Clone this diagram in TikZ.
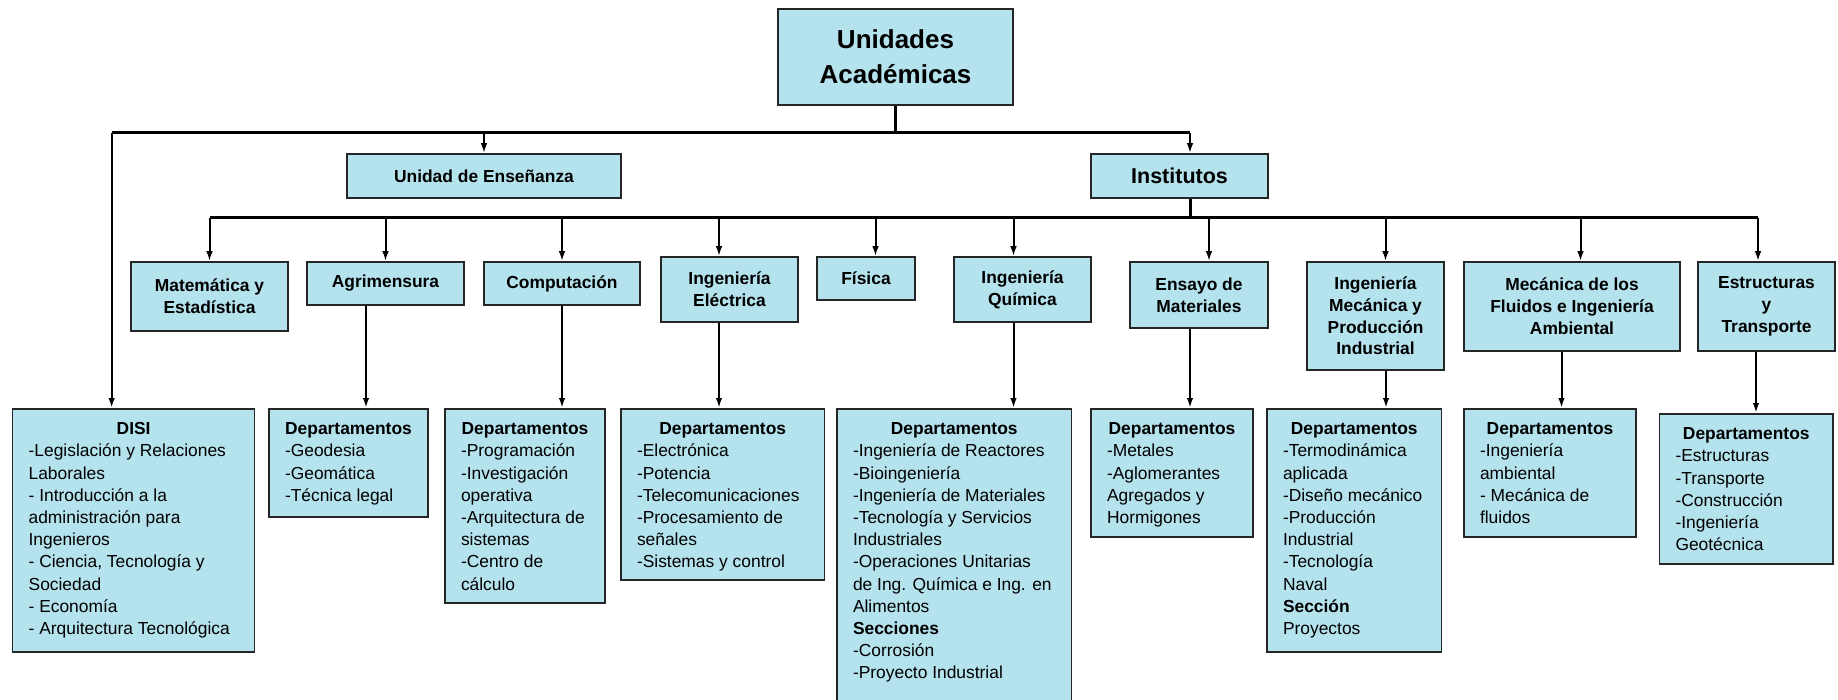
\documentclass[tikz,border=0pt]{standalone}
\usepackage{fontspec}
\setmainfont{Liberation Sans}
\usetikzlibrary{arrows.meta}
\definecolor{celeste}{RGB}{180,226,237}
\newcommand{\deps}[3]{\begin{tabular}[t]{@{}l@{}}\makebox[#1][c]{\bfseries #2}\\#3\end{tabular}}
\tikzset{
	caja/.style={draw=black!85, line width=1.5pt, fill=celeste, inner sep=0pt, align=center, font=\fontsize{17.4}{21.8}\selectfont\bfseries},
	depto/.style={draw=black!85, line width=1.5pt, fill=celeste, inner sep=0pt, anchor=north, text height=26pt, font=\fontsize{17.4}{22.2}\selectfont},
	bus/.style={line width=3pt},
	flecha/.style={line width=2pt, -{Latex[length=10pt,width=6.5pt]}}
}

\begin{document}
\begin{tikzpicture}[x=1pt,y=-1pt]
			%%%%% START %%%%%
			\useasboundingbox (0,0) rectangle (1838,700);
			
			\node[caja, minimum width=235, minimum height=96, font=\fontsize{26}{35}\selectfont\bfseries] (ua) at (895.5,57) {Unidades\\Académicas};
			
			\node[caja, minimum width=274, minimum height=44] (ue) at (484,176) {Unidad de Enseñanza};
			\node[caja, minimum width=177, minimum height=44, font=\fontsize{21.5}{26}\selectfont\bfseries] (inst) at (1179.5,176) {Institutos};
			
			\node[caja, minimum width=157, minimum height=69] (mat) at (209.5,296.5) {Matemática y\\Estadística};
			\node[caja, minimum width=157, minimum height=43] (agr) at (385.5,283.5) {Agrimensura};
			\node[caja, minimum width=156, minimum height=43] (comp) at (562,283.5) {Computación};
			\node[caja, minimum width=137, minimum height=65] (ie) at (729.5,289.5) {Ingeniería\\Eléctrica};
			\node[caja, minimum width=98, minimum height=43] (fis) at (866,278.5) {Física};
			\node[caja, minimum width=137, minimum height=65] (iq) at (1022.5,289.5) {Ingeniería\\Química};
			\node[caja, minimum width=138, minimum height=66] (ens) at (1199,295) {Ensayo de\\Materiales};
			\node[caja, minimum width=137, minimum height=108] (imec) at (1375.5,316) {Ingeniería\\Mecánica y\\Producción\\Industrial};
			\node[caja, minimum width=216, minimum height=89] (mfl) at (1572,306.5) {Mecánica de los\\Fluidos e Ingeniería\\Ambiental};
			\node[caja, minimum width=137, minimum height=89] (est) at (1766.5,306.5) {Estructuras\\y\\Transporte};
			
			\node[depto, minimum width=242, text depth=217] (disi) at (133.65,408) {\deps{210pt}{DISI}{-Legislación y Relaciones\\Laborales\\- Introducción a la\\administración para\\Ingenieros\\- Ciencia, Tecnología y\\Sociedad\\- Economía\\- Arquitectura Tecnológica}};
			\node[depto, minimum width=159, text depth=82] (agrd) at (348.5,408) {\deps{127pt}{Departamentos}{-Geodesia\\-Geomática\\-Técnica legal}};
			\node[depto, minimum width=160, text depth=168] (compd) at (525,408) {\deps{128pt}{Departamentos}{-Programación\\-Investigación\\operativa\\-Arquitectura de\\sistemas\\-Centro de\\cálculo}};
			\node[depto, minimum width=203.5, text depth=145] (ied) at (722.75,408) {\deps{171.5pt}{Departamentos}{-Electrónica\\-Potencia\\-Telecomunicaciones\\-Procesamiento de\\señales\\-Sistemas y control}};
			\node[depto, minimum width=234.5, text depth=269] (iqd) at (954.25,408) {\deps{202.5pt}{Departamentos}{-Ingeniería de Reactores\\-Bioingeniería\\-Ingeniería de Materiales\\-Tecnología y Servicios\\Industriales\\-Operaciones Unitarias\\de Ing. Química e Ing. en\\Alimentos\\\textbf{Secciones}\\-Corrosión\\-Proyecto Industrial}};
			\node[depto, minimum width=162, text depth=102] (ensd) at (1172,408) {\deps{130pt}{Departamentos}{-Metales\\-Aglomerantes\\Agregados y\\Hormigones}};
			\node[depto, minimum width=174.5, text depth=217] (imecd) at (1354.25,408) {\deps{142.5pt}{Departamentos}{-Termodinámica\\aplicada\\-Diseño mecánico\\-Producción\\Industrial\\-Tecnología\\Naval\\\textbf{Sección}\\Proyectos}};
			\node[depto, minimum width=172, text depth=102] (mfld) at (1550,408) {\deps{140pt}{Departamentos}{-Ingeniería\\ambiental\\- Mecánica de\\fluidos}};
			\node[depto, minimum width=173.5, text depth=124] (estd) at (1746.25,413) {\deps{141.5pt}{Departamentos}{-Estructuras\\-Transporte\\-Construcción\\-Ingeniería\\Geotécnica}};
			
			% barras
			\coordinate (bus1) at (895.5,133);
			\coordinate (bus2) at (1190,218);
			\draw[bus] (ua.south) -- (bus1);
			\draw[bus] ([xshift=-22pt]disi.north |- bus1) -- ([xshift=10.5pt]inst.north |- bus1);
			\draw[flecha] ([xshift=-22pt]disi.north |- bus1) -- ([xshift=-22pt]disi.north);
			\draw[flecha] (ue.north |- bus1) -- (ue.north);
			\draw[flecha] ([xshift=10.5pt]inst.north |- bus1) -- ([xshift=10.5pt]inst.north);
			
			\draw[bus] ([xshift=10.5pt]inst.south) -- (bus2);
			\draw[bus] (mat.north |- bus2) -- ([xshift=-8.5pt]est.north |- bus2);
			\draw[flecha] (mat.north |- bus2) -- (mat.north);
			\draw[flecha] (agr.north |- bus2) -- (agr.north);
			\draw[flecha] (comp.north |- bus2) -- (comp.north);
			\draw[flecha] ([xshift=-10.5pt]ie.north |- bus2) -- ([xshift=-10.5pt]ie.north);
			\draw[flecha] ([xshift=9.5pt]fis.north |- bus2) -- ([xshift=9.5pt]fis.north);
			\draw[flecha] ([xshift=-9pt]iq.north |- bus2) -- ([xshift=-9pt]iq.north);
			\draw[flecha] ([xshift=10pt]ens.north |- bus2) -- ([xshift=10pt]ens.north);
			\draw[flecha] ([xshift=10pt]imec.north |- bus2) -- ([xshift=10pt]imec.north);
			\draw[flecha] ([xshift=8.5pt]mfl.north |- bus2) -- ([xshift=8.5pt]mfl.north);
			\draw[flecha] ([xshift=-8.5pt]est.north |- bus2) -- ([xshift=-8.5pt]est.north);
			
			% departamentos
			\draw[flecha] ([xshift=-19.5pt]agr.south) -- ([xshift=-19.5pt]agr.south |- agrd.north);
			\draw[flecha] (comp.south) -- (comp.south |- compd.north);
			\draw[flecha] ([xshift=-10.5pt]ie.south) -- ([xshift=-10.5pt]ie.south |- ied.north);
			\draw[flecha] ([xshift=-9pt]iq.south) -- ([xshift=-9pt]iq.south |- iqd.north);
			\draw[flecha] ([xshift=-9pt]ens.south) -- ([xshift=-9pt]ens.south |- ensd.north);
			\draw[flecha] ([xshift=10.5pt]imec.south) -- ([xshift=10.5pt]imec.south |- imecd.north);
			\draw[flecha] ([xshift=-10.5pt]mfl.south) -- ([xshift=-10.5pt]mfl.south |- mfld.north);
			\draw[flecha] ([xshift=-10.5pt]est.south) -- ([xshift=-10.5pt]est.south |- estd.north);
			
			%%%%% END %%%%%
\end{tikzpicture}
\end{document}
